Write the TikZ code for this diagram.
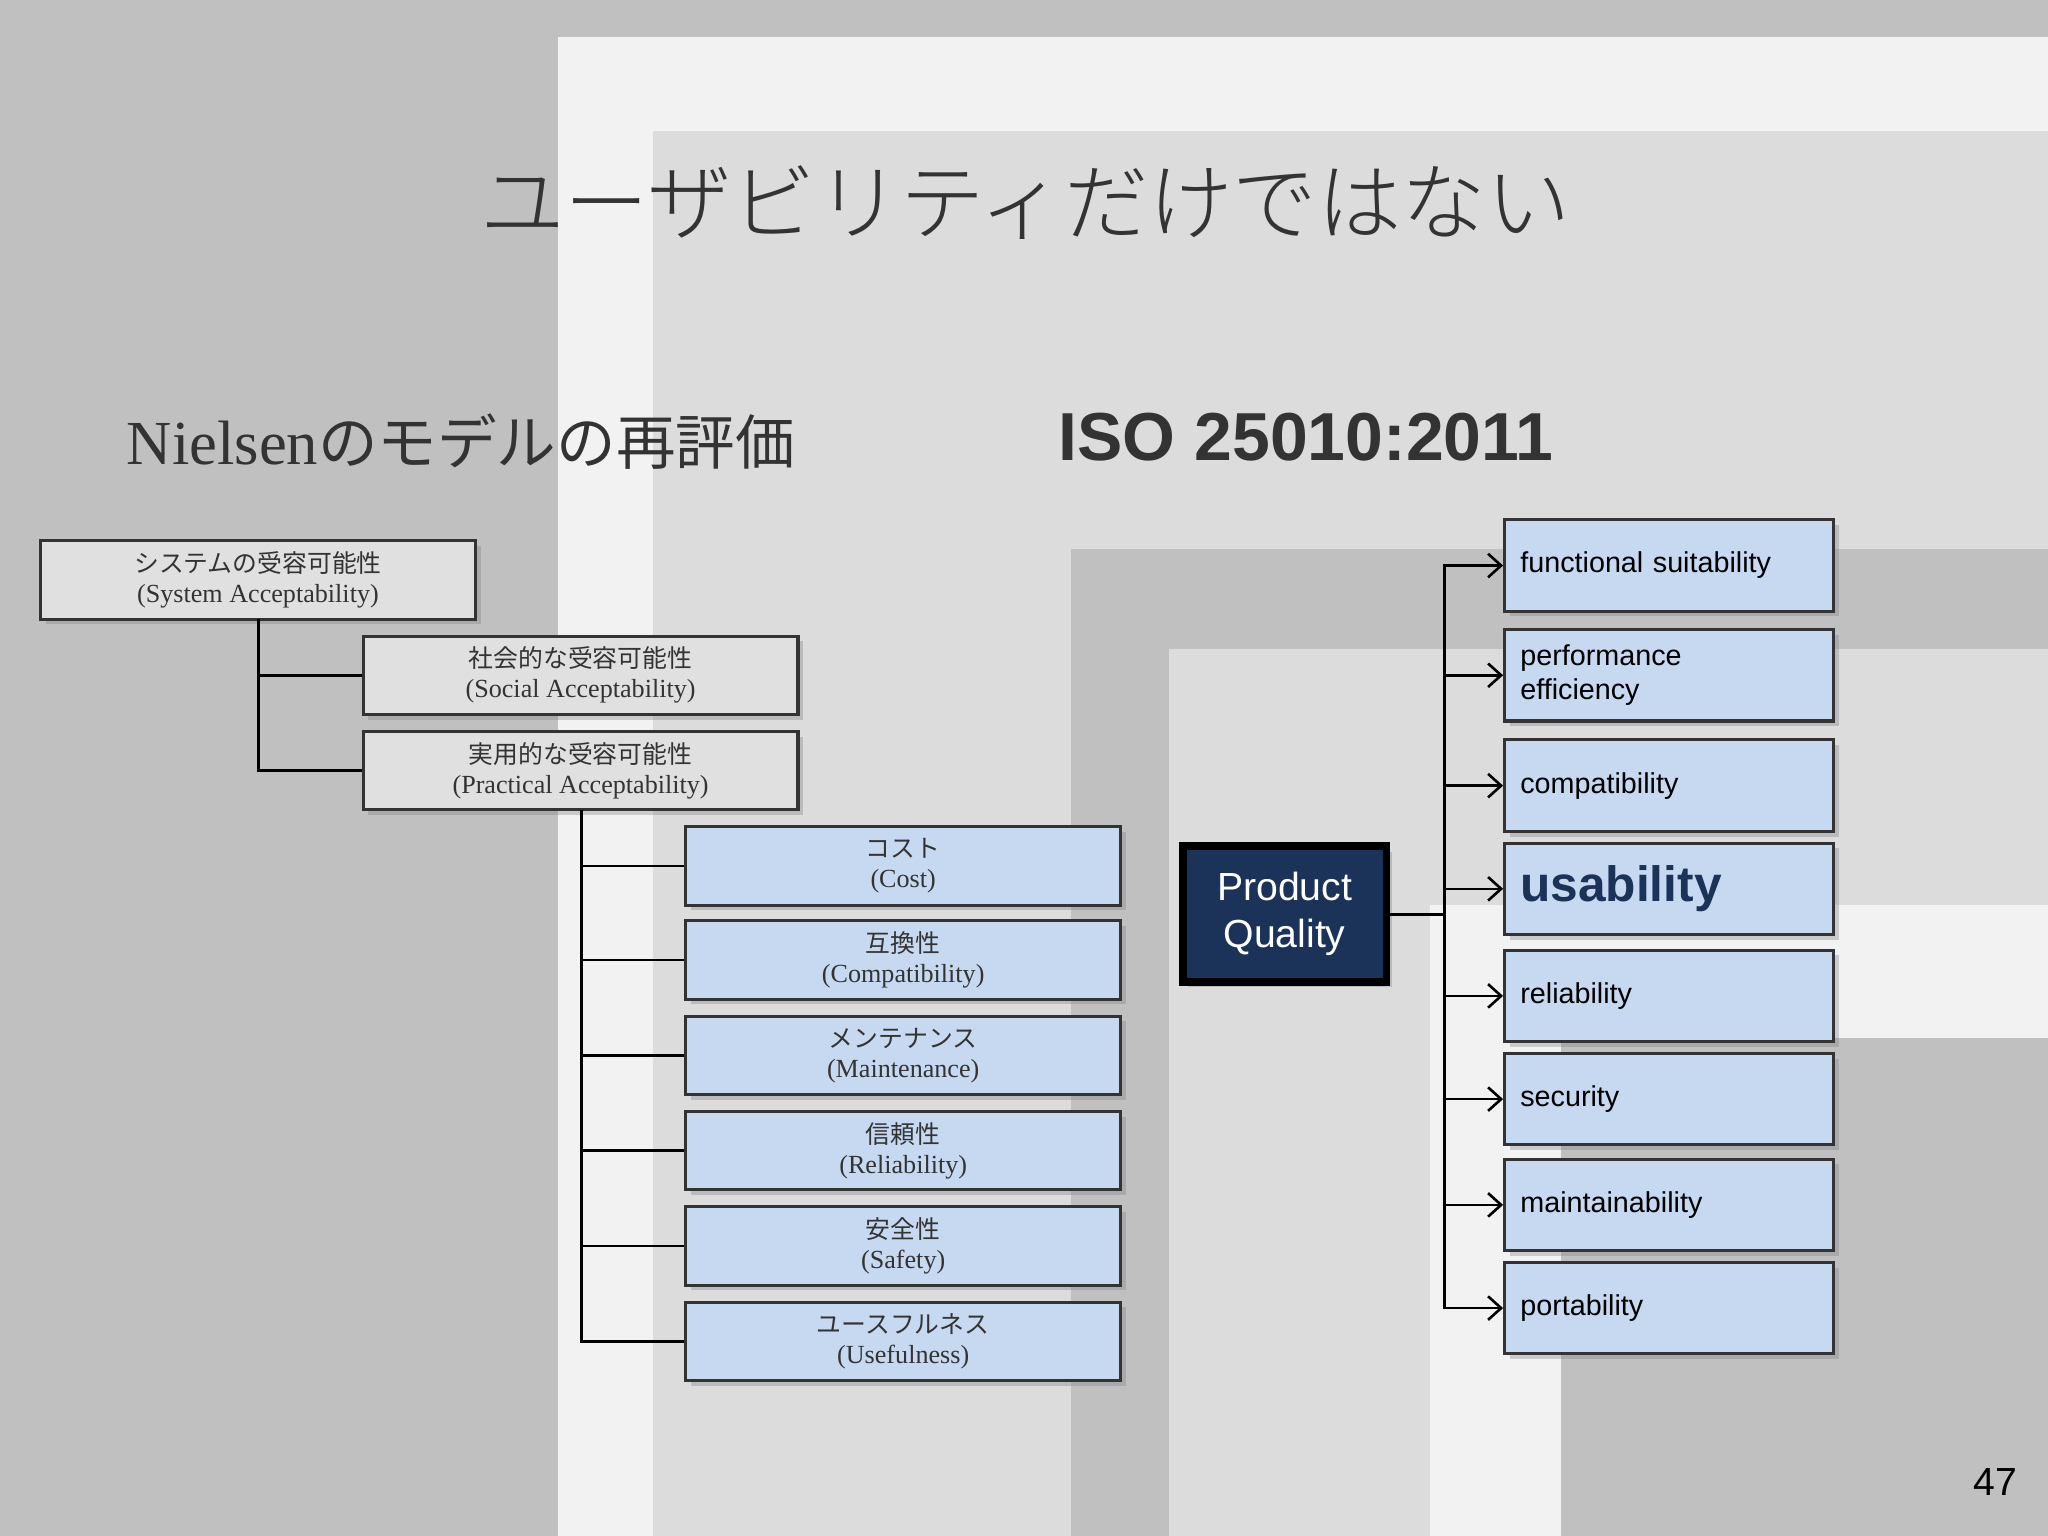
\documentclass[tikz,border=0pt]{standalone}
\usepackage{fontspec}
\setmainfont{Liberation Serif}
\newfontfamily\jp{Noto Sans CJK JP}[Scale=0.95]
\newfontfamily\jpl{Noto Sans CJK JP Light}[Scale=0.95]
\newfontfamily\sans{Liberation Sans}
\usetikzlibrary{shadows}
\definecolor{bgA}{HTML}{C0C0C0}
\definecolor{bgB}{HTML}{F2F2F2}
\definecolor{bgC}{HTML}{DCDCDC}
\definecolor{boxg}{HTML}{E0E0E0}
\definecolor{boxb}{HTML}{C6D9F1}
\definecolor{navy}{HTML}{1B3358}
\definecolor{txt}{HTML}{333333}
\tikzset{
 lbox/.style={draw=black!80,line width=1.2pt,minimum width=166.5pt,minimum height=30pt,inner sep=0pt,align=center,font=\fontsize{10}{11.5}\selectfont,text=txt,drop shadow={shadow xshift=2pt,shadow yshift=-2pt,opacity=0.35}},
 gbox/.style={lbox,fill=boxg},
 bbox/.style={lbox,fill=boxb},
 rbox/.style={draw=black!80,line width=1.2pt,fill=boxb,minimum width=126pt,minimum height=35pt,inner sep=0pt,text width=114pt,align=left,font=\sans\fontsize{11}{13}\selectfont,drop shadow={shadow xshift=2pt,shadow yshift=-2pt,opacity=0.35}},
 con/.style={line width=1pt,black},
 arr/.style={con,-{Straight Barb[length=5pt,width=9pt]}},
}
\usetikzlibrary{arrows.meta}
\begin{document}
\begin{tikzpicture}[x=0.5pt,y=-0.5pt]
\useasboundingbox (0,0) rectangle (1568,1176);
\fill[bgA] (0,0) rectangle (1568,1176);
\fill[bgB] (427,28) rectangle (1568,1176);
\fill[bgC] (500,100) rectangle (1568,1176);
\fill[bgA] (820,420) rectangle (1568,1176);
\fill[bgC] (895,497) rectangle (1568,1176);
\fill[bgB] (1095,693) rectangle (1568,1176);
\fill[bgA] (1195,795) rectangle (1568,1176);

\node[font=\jpl\fontsize{34}{34}\selectfont,text=txt] (title) at (785,155) {ユーザビリティだけではない};
\node[anchor=west,font=\fontsize{24}{24}\selectfont,text=txt] (sub) at (90,338) {Nielsen{\jp のモデルの再評価}};
\node[font=\sans\bfseries\fontsize{26}{26}\selectfont,text=txt] (iso) at (1000,335) {ISO 25010:2011};

\node[gbox] (sys) at (197.5,444) {{\jp システムの受容可能性}\\(System Acceptability)};
\node[gbox] (soc) at (444.5,517) {{\jp 社会的な受容可能性}\\(Social Acceptability)};
\node[gbox] (pra) at (444.5,590) {{\jp 実用的な受容可能性}\\(Practical Acceptability)};
\draw[con] (198,474) |- (soc.west);
\draw[con] (198,474) |- (pra.west);
\foreach \n/\y/\j/\e in {c1/663/コスト/Cost,c2/735/互換性/Compatibility,c3/808/メンテナンス/Maintenance,c4/881/信頼性/Reliability,c5/954/安全性/Safety,c6/1027/ユースフルネス/Usefulness}{
 \node[bbox] (\n) at (691.5,\y) {{\jp \j}\\(\e)};
 \draw[con] (445,620) |- (\n.west);
}

\node[draw=black,line width=3pt,fill=navy,minimum width=78pt,minimum height=52pt,align=center,text=white,font=\sans\fontsize{15}{18}\selectfont,drop shadow={shadow xshift=2pt,shadow yshift=-2pt,opacity=0.35}] (pq) at (983.5,700) {Product\\Quality};
\coordinate (j) at (1106,700);
\draw[con] (pq.east) -- (j);
\foreach \n/\y/\t in {r1/433/functional suitability,r2/517/performance\\efficiency,r3/601.5/compatibility,r5/762.5/reliability,r6/841.5/security,r7/922.5/maintainability,r8/1001.5/portability}{
 \node[rbox] (\n) at (1278,\y) {\t};
 \draw[arr] (j) |- (\n.west);
}
\node[rbox,font=\sans\bfseries\fontsize{19}{20}\selectfont,text=navy] (r4) at (1278,680.5) {usability};
\draw[arr] (j) |- (r4.west);

\node[font=\sans\fontsize{15}{15}\selectfont] (pg) at (1528,1135) {47};
\end{tikzpicture}
\end{document}
